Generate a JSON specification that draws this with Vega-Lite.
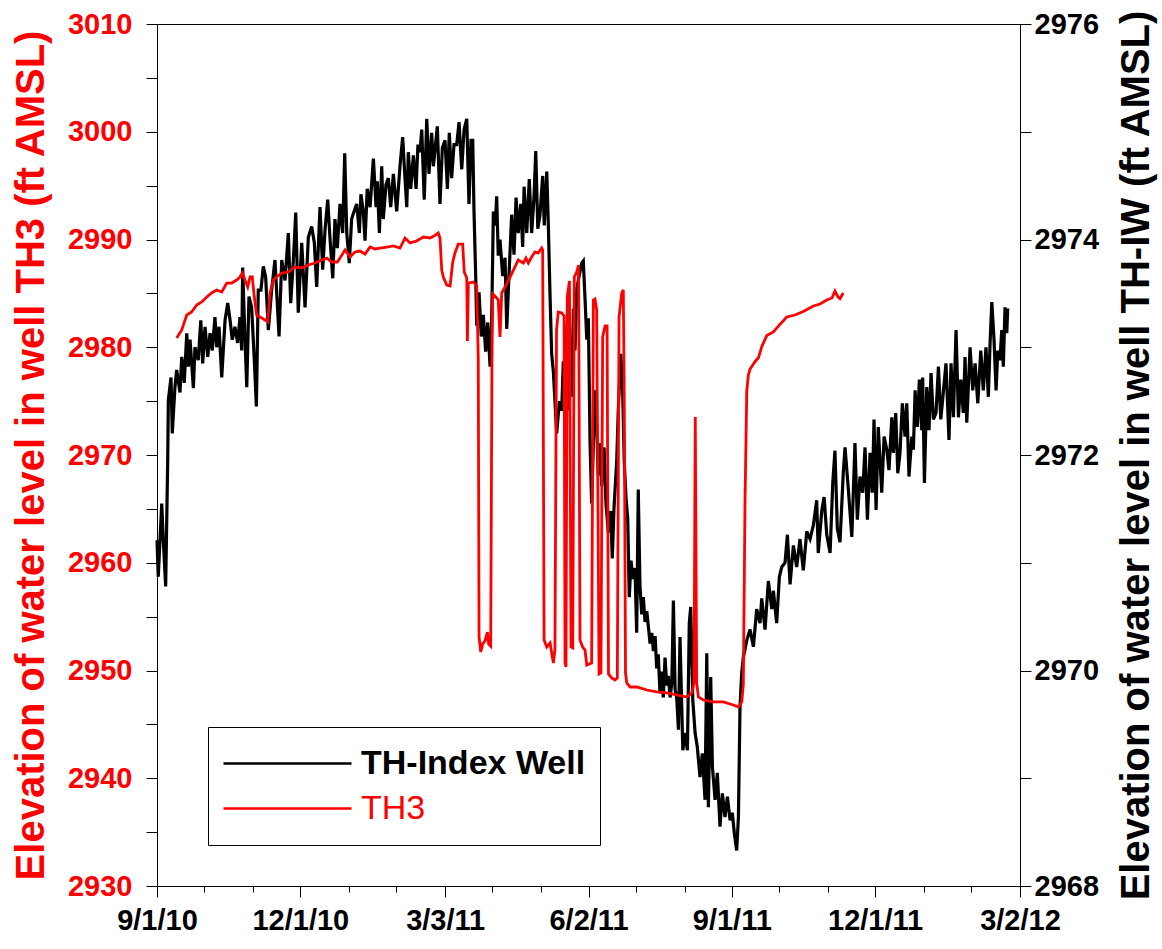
{
  "$schema": "https://vega.github.io/schema/vega-lite/v6.json",
  "width": 863,
  "height": 862,
  "autosize": {"type": "none"},
  "padding": {"left": 157, "top": 24, "right": 142, "bottom": 63},
  "background": "white",
  "config": {
    "view": {"stroke": "black", "strokeWidth": 1},
    "font": "Liberation Sans",
    "axis": {"grid": false, "domainColor": "black", "tickColor": "black", "domainWidth": 1, "tickWidth": 1, "labelFont": "Liberation Sans", "titleFont": "Liberation Sans", "labelOverlap": false, "labelBound": false, "labelFlush": false}
  },
  "datasets": {
    "th_index_well": [
      {"day":0,"elevation":2971.21},{"day":0.8,"elevation":2970.87},{"day":3.0,"elevation":2971.55},{"day":4.0,"elevation":2971.21},{"day":5.5,"elevation":2970.78},{"day":6.8,"elevation":2971.95},{"day":7.2,"elevation":2972.51},{"day":8.9,"elevation":2972.72},{"day":9.7,"elevation":2972.20},{"day":11.4,"elevation":2972.63},{"day":12.5,"elevation":2972.79},{"day":14.6,"elevation":2972.58},{"day":15.7,"elevation":2972.91},{"day":17.3,"elevation":2972.67},{"day":18.9,"elevation":2973.13},{"day":19.9,"elevation":2972.82},{"day":21.0,"elevation":2973.07},{"day":23.1,"elevation":2972.62},{"day":24.1,"elevation":2973.00},{"day":26.2,"elevation":2972.88},{"day":27.8,"elevation":2973.25},{"day":29.0,"elevation":2972.85},{"day":30.5,"elevation":2973.19},{"day":32.2,"elevation":2972.91},{"day":33.7,"elevation":2973.13},{"day":35.1,"elevation":2972.97},{"day":36.8,"elevation":2973.28},{"day":37.9,"elevation":2973.00},{"day":39.4,"elevation":2973.19},{"day":41.1,"elevation":2972.72},{"day":43.2,"elevation":2973.25},{"day":44.9,"elevation":2973.41},{"day":46.4,"elevation":2973.25},{"day":47.8,"elevation":2973.07},{"day":49.5,"elevation":2973.19},{"day":51.2,"elevation":2973.04},{"day":52.7,"elevation":2973.28},{"day":53.8,"elevation":2972.97},{"day":54.4,"elevation":2973.74},{"day":55.4,"elevation":2973.28},{"day":57.0,"elevation":2972.63},{"day":58.4,"elevation":2973.47},{"day":60.1,"elevation":2973.37},{"day":61.8,"elevation":2972.88},{"day":63.1,"elevation":2972.45},{"day":64.3,"elevation":2973.53},{"day":66.0,"elevation":2973.53},{"day":67.5,"elevation":2973.75},{"day":69.0,"elevation":2973.65},{"day":70.7,"elevation":2973.16},{"day":72.8,"elevation":2973.53},{"day":74.9,"elevation":2973.81},{"day":77.5,"elevation":2973.10},{"day":79.2,"elevation":2973.81},{"day":81.3,"elevation":2973.62},{"day":83.4,"elevation":2974.06},{"day":84.9,"elevation":2973.41},{"day":86.6,"elevation":2973.81},{"day":88.1,"elevation":2974.25},{"day":89.7,"elevation":2973.32},{"day":91.9,"elevation":2973.97},{"day":94.0,"elevation":2973.37},{"day":96.1,"elevation":2974.02},{"day":98.2,"elevation":2974.12},{"day":99.9,"elevation":2973.97},{"day":101.4,"elevation":2973.56},{"day":103.5,"elevation":2974.30},{"day":105.2,"elevation":2973.72},{"day":106.7,"elevation":2974.09},{"day":108.4,"elevation":2974.37},{"day":109.9,"elevation":2974.00},{"day":111.6,"elevation":2973.64},{"day":113.0,"elevation":2974.19},{"day":114.5,"elevation":2973.92},{"day":116.2,"elevation":2974.33},{"day":117.9,"elevation":2974.06},{"day":119.2,"elevation":2974.80},{"day":120.5,"elevation":2974.06},{"day":122.1,"elevation":2973.78},{"day":123.6,"elevation":2974.19},{"day":125.1,"elevation":2974.26},{"day":126.8,"elevation":2974.33},{"day":128.5,"elevation":2974.06},{"day":129.5,"elevation":2974.42},{"day":131.0,"elevation":2974.26},{"day":132.1,"elevation":2973.99},{"day":133.5,"elevation":2974.47},{"day":135.3,"elevation":2974.30},{"day":137.4,"elevation":2974.75},{"day":139.1,"elevation":2974.30},{"day":139.9,"elevation":2974.54},{"day":141.2,"elevation":2974.06},{"day":142.7,"elevation":2974.68},{"day":143.7,"elevation":2974.19},{"day":145.4,"elevation":2974.51},{"day":146.9,"elevation":2974.57},{"day":148.4,"elevation":2974.30},{"day":150.1,"elevation":2974.61},{"day":152.2,"elevation":2974.26},{"day":154.3,"elevation":2974.68},{"day":156.0,"elevation":2974.95},{"day":157.3,"elevation":2974.61},{"day":158.6,"elevation":2974.30},{"day":159.6,"elevation":2974.81},{"day":161.1,"elevation":2974.47},{"day":162.8,"elevation":2974.78},{"day":164.5,"elevation":2974.47},{"day":165.7,"elevation":2974.88},{"day":167.0,"elevation":2974.81},{"day":168.1,"elevation":2975.02},{"day":169.7,"elevation":2974.37},{"day":171.3,"elevation":2975.12},{"day":172.7,"elevation":2974.61},{"day":174.4,"elevation":2974.99},{"day":175.5,"elevation":2974.68},{"day":178.0,"elevation":2975.05},{"day":179.7,"elevation":2974.33},{"day":181.2,"elevation":2974.85},{"day":182.9,"elevation":2974.92},{"day":184.4,"elevation":2974.47},{"day":185.6,"elevation":2974.99},{"day":187.1,"elevation":2974.57},{"day":188.6,"elevation":2974.88},{"day":190.3,"elevation":2974.88},{"day":191.8,"elevation":2975.09},{"day":193.5,"elevation":2974.65},{"day":195.0,"elevation":2975.02},{"day":196.7,"elevation":2975.12},{"day":198.1,"elevation":2974.33},{"day":199.4,"elevation":2974.92},{"day":200.5,"elevation":2974.92},{"day":201.3,"elevation":2974.26},{"day":202.4,"elevation":2973.64},{"day":203.0,"elevation":2973.20},{"day":204.5,"elevation":2973.51},{"day":205.9,"elevation":2973.10},{"day":207.2,"elevation":2973.30},{"day":208.7,"elevation":2972.96},{"day":210.0,"elevation":2973.23},{"day":211.5,"elevation":2972.82},{"day":212.5,"elevation":2973.23},{"day":213.6,"elevation":2974.26},{"day":214.8,"elevation":2974.13},{"day":215.7,"elevation":2974.40},{"day":216.7,"elevation":2973.85},{"day":217.8,"elevation":2974.00},{"day":219.5,"elevation":2973.66},{"day":221.0,"elevation":2973.83},{"day":222.1,"elevation":2973.17},{"day":223.1,"elevation":2973.53},{"day":225.2,"elevation":2974.23},{"day":226.7,"elevation":2973.86},{"day":228.0,"elevation":2974.39},{"day":229.4,"elevation":2974.06},{"day":231.0,"elevation":2974.33},{"day":232.2,"elevation":2973.93},{"day":233.1,"elevation":2974.49},{"day":234.8,"elevation":2974.06},{"day":236.4,"elevation":2974.56},{"day":237.9,"elevation":2974.06},{"day":239.4,"elevation":2974.39},{"day":240.5,"elevation":2974.82},{"day":241.8,"elevation":2974.10},{"day":243.2,"elevation":2974.23},{"day":244.9,"elevation":2974.59},{"day":245.9,"elevation":2974.13},{"day":247.5,"elevation":2974.63},{"day":248.5,"elevation":2974.13},{"day":249.6,"elevation":2973.47},{"day":250.6,"elevation":2972.94},{"day":251.7,"elevation":2972.77},{"day":253.8,"elevation":2972.20},{"day":255.5,"elevation":2972.50},{"day":257.0,"elevation":2972.41},{"day":258.0,"elevation":2972.87},{"day":259.1,"elevation":2972.47},{"day":260.2,"elevation":2973.20},{"day":261.2,"elevation":2972.41},{"day":262.3,"elevation":2973.00},{"day":263.3,"elevation":2972.54},{"day":264.4,"elevation":2973.36},{"day":265.4,"elevation":2972.97},{"day":266.5,"elevation":2973.53},{"day":267.5,"elevation":2973.62},{"day":268.6,"elevation":2973.70},{"day":269.7,"elevation":2973.78},{"day":270.7,"elevation":2973.80},{"day":271.8,"elevation":2973.45},{"day":272.9,"elevation":2973.07},{"day":273.9,"elevation":2973.27},{"day":275.0,"elevation":2972.11},{"day":276.0,"elevation":2971.55},{"day":277.1,"elevation":2972.11},{"day":278.1,"elevation":2972.60},{"day":279.2,"elevation":2972.27},{"day":280.2,"elevation":2971.81},{"day":281.3,"elevation":2972.11},{"day":282.4,"elevation":2971.71},{"day":283.9,"elevation":2972.07},{"day":285.1,"elevation":2971.55},{"day":286.6,"elevation":2971.28},{"day":288.1,"elevation":2971.48},{"day":289.1,"elevation":2971.04},{"day":290.2,"elevation":2971.51},{"day":291.9,"elevation":2971.94},{"day":292.9,"elevation":2972.41},{"day":294.5,"elevation":2972.94},{"day":295.7,"elevation":2972.60},{"day":296.7,"elevation":2971.94},{"day":297.8,"elevation":2971.61},{"day":298.9,"elevation":2971.41},{"day":299.9,"elevation":2970.68},{"day":301.0,"elevation":2971.02},{"day":302.1,"elevation":2970.85},{"day":303.5,"elevation":2970.95},{"day":304.6,"elevation":2970.35},{"day":305.6,"elevation":2971.68},{"day":306.7,"elevation":2970.78},{"day":307.8,"elevation":2970.52},{"day":308.8,"elevation":2970.68},{"day":309.9,"elevation":2970.45},{"day":311.0,"elevation":2970.55},{"day":312.0,"elevation":2970.41},{"day":313.1,"elevation":2970.25},{"day":314.2,"elevation":2970.35},{"day":315.2,"elevation":2970.18},{"day":316.3,"elevation":2970.32},{"day":317.3,"elevation":2970.02},{"day":318.3,"elevation":2970.15},{"day":319.4,"elevation":2969.79},{"day":320.5,"elevation":2969.99},{"day":321.5,"elevation":2969.75},{"day":322.6,"elevation":2970.12},{"day":323.7,"elevation":2969.86},{"day":324.7,"elevation":2969.95},{"day":325.8,"elevation":2969.75},{"day":326.9,"elevation":2969.88},{"day":327.9,"elevation":2970.65},{"day":329.0,"elevation":2969.82},{"day":330.0,"elevation":2969.75},{"day":331.1,"elevation":2969.45},{"day":332.1,"elevation":2970.31},{"day":333.9,"elevation":2969.26},{"day":335.3,"elevation":2969.42},{"day":336.8,"elevation":2969.26},{"day":338.0,"elevation":2970.44},{"day":338.9,"elevation":2970.59},{"day":340.2,"elevation":2969.73},{"day":341.7,"elevation":2969.42},{"day":343.1,"elevation":2969.29},{"day":344.8,"elevation":2969.01},{"day":346.3,"elevation":2969.23},{"day":348.0,"elevation":2968.80},{"day":349.1,"elevation":2970.16},{"day":350.1,"elevation":2968.73},{"day":351.6,"elevation":2969.94},{"day":352.7,"elevation":2969.10},{"day":354.4,"elevation":2968.80},{"day":355.8,"elevation":2969.05},{"day":357.5,"elevation":2968.55},{"day":359.0,"elevation":2968.86},{"day":360.7,"elevation":2968.64},{"day":362.2,"elevation":2968.83},{"day":363.9,"elevation":2968.61},{"day":365.3,"elevation":2968.68},{"day":366.6,"elevation":2968.49},{"day":368.1,"elevation":2968.33},{"day":369.2,"elevation":2968.64},{"day":370.2,"elevation":2969.66},{"day":371.3,"elevation":2969.98},{"day":372.3,"elevation":2970.12},{"day":374.5,"elevation":2970.28},{"day":376.6,"elevation":2970.38},{"day":378.7,"elevation":2970.22},{"day":380.8,"elevation":2970.57},{"day":382.9,"elevation":2970.44},{"day":384.0,"elevation":2970.67},{"day":386.1,"elevation":2970.38},{"day":388.2,"elevation":2970.83},{"day":390.4,"elevation":2970.57},{"day":391.4,"elevation":2970.74},{"day":393.5,"elevation":2970.44},{"day":395.2,"elevation":2970.87},{"day":396.7,"elevation":2970.96},{"day":398.8,"elevation":2971.00},{"day":400.3,"elevation":2971.26},{"day":402.0,"elevation":2970.80},{"day":404.1,"elevation":2971.16},{"day":406.2,"elevation":2970.96},{"day":408.3,"elevation":2971.22},{"day":410.4,"elevation":2970.93},{"day":412.6,"elevation":2971.29},{"day":414.7,"elevation":2971.22},{"day":416.8,"elevation":2971.35},{"day":418.9,"elevation":2971.58},{"day":419.9,"elevation":2971.09},{"day":422.1,"elevation":2971.48},{"day":423.6,"elevation":2971.61},{"day":425.3,"elevation":2971.26},{"day":427.4,"elevation":2971.09},{"day":429.1,"elevation":2971.74},{"day":430.5,"elevation":2972.04},{"day":432.0,"elevation":2971.32},{"day":433.7,"elevation":2971.19},{"day":435.8,"elevation":2971.84},{"day":436.9,"elevation":2972.07},{"day":439.0,"elevation":2971.68},{"day":441.2,"elevation":2971.24},{"day":443.2,"elevation":2972.11},{"day":444.7,"elevation":2971.40},{"day":446.4,"elevation":2971.80},{"day":448.1,"elevation":2971.65},{"day":449.6,"elevation":2972.07},{"day":451.1,"elevation":2971.40},{"day":452.8,"elevation":2972.02},{"day":454.2,"elevation":2971.65},{"day":455.3,"elevation":2972.33},{"day":456.6,"elevation":2971.49},{"day":458.0,"elevation":2972.26},{"day":460.2,"elevation":2971.65},{"day":461.7,"elevation":2972.17},{"day":463.4,"elevation":2972.05},{"day":464.8,"elevation":2971.86},{"day":466.6,"elevation":2972.35},{"day":467.6,"elevation":2972.02},{"day":469.1,"elevation":2972.39},{"day":470.4,"elevation":2971.83},{"day":471.8,"elevation":2972.02},{"day":473.3,"elevation":2972.48},{"day":475.0,"elevation":2972.17},{"day":476.1,"elevation":2972.48},{"day":477.5,"elevation":2971.80},{"day":479.3,"elevation":2972.17},{"day":480.3,"elevation":2972.05},{"day":481.4,"elevation":2972.60},{"day":482.8,"elevation":2972.26},{"day":484.1,"elevation":2972.70},{"day":485.6,"elevation":2972.23},{"day":486.2,"elevation":2972.72},{"day":487.3,"elevation":2971.74},{"day":488.8,"elevation":2972.63},{"day":490.2,"elevation":2972.23},{"day":491.5,"elevation":2972.76},{"day":493.0,"elevation":2972.33},{"day":494.7,"elevation":2972.39},{"day":496.2,"elevation":2972.82},{"day":497.7,"elevation":2972.33},{"day":499.3,"elevation":2972.58},{"day":501.0,"elevation":2972.85},{"day":502.9,"elevation":2972.14},{"day":504.2,"elevation":2972.85},{"day":505.7,"elevation":2972.35},{"day":507.4,"elevation":2973.16},{"day":508.9,"elevation":2972.35},{"day":510.4,"elevation":2972.70},{"day":512.0,"elevation":2972.39},{"day":513.1,"elevation":2972.91},{"day":514.2,"elevation":2972.30},{"day":516.3,"elevation":2973.00},{"day":518.0,"elevation":2972.60},{"day":519.5,"elevation":2972.85},{"day":521.2,"elevation":2972.48},{"day":523.1,"elevation":2972.97},{"day":524.7,"elevation":2972.60},{"day":526.4,"elevation":2973.00},{"day":527.9,"elevation":2972.54},{"day":529.0,"elevation":2973.04},{"day":530.1,"elevation":2973.42},{"day":531.5,"elevation":2973.07},{"day":532.8,"elevation":2972.60},{"day":533.9,"elevation":2972.97},{"day":535.3,"elevation":2972.88},{"day":536.4,"elevation":2973.16},{"day":537.4,"elevation":2972.82},{"day":538.5,"elevation":2973.37},{"day":539.6,"elevation":2973.13},{"day":540.2,"elevation":2973.36}
    ],
    "th3": [
      {"day":12.5,"elevation":2980.86},{"day":15.7,"elevation":2981.60},{"day":18.9,"elevation":2982.99},{"day":22.0,"elevation":2983.27},{"day":25.2,"elevation":2983.92},{"day":28.4,"elevation":2984.20},{"day":31.6,"elevation":2984.66},{"day":34.7,"elevation":2985.04},{"day":37.9,"elevation":2985.31},{"day":41.1,"elevation":2985.13},{"day":44.3,"elevation":2985.96},{"day":47.4,"elevation":2985.96},{"day":50.6,"elevation":2986.24},{"day":52.7,"elevation":2986.52},{"day":54.2,"elevation":2986.89},{"day":55.9,"elevation":2986.24},{"day":57.6,"elevation":2985.59},{"day":59.1,"elevation":2986.52},{"day":60.5,"elevation":2986.52},{"day":61.8,"elevation":2984.66},{"day":63.3,"elevation":2982.99},{"day":65.4,"elevation":2982.81},{"day":68.6,"elevation":2982.53},{"day":70.3,"elevation":2982.34},{"day":71.8,"elevation":2985.04},{"day":73.9,"elevation":2986.24},{"day":76.0,"elevation":2986.52},{"day":79.2,"elevation":2986.89},{"day":83.4,"elevation":2986.98},{"day":87.6,"elevation":2987.45},{"day":91.9,"elevation":2987.36},{"day":96.1,"elevation":2987.63},{"day":100.3,"elevation":2987.82},{"day":104.6,"elevation":2988.10},{"day":107.8,"elevation":2988.28},{"day":110.9,"elevation":2987.91},{"day":114.5,"elevation":2987.91},{"day":116.2,"elevation":2988.28},{"day":119.4,"elevation":2989.03},{"day":122.6,"elevation":2988.38},{"day":125.7,"elevation":2988.84},{"day":128.9,"elevation":2988.93},{"day":132.1,"elevation":2988.65},{"day":135.3,"elevation":2989.30},{"day":138.4,"elevation":2989.12},{"day":141.6,"elevation":2989.21},{"day":145.9,"elevation":2989.30},{"day":150.1,"elevation":2989.40},{"day":154.3,"elevation":2989.21},{"day":157.5,"elevation":2990.14},{"day":160.7,"elevation":2989.68},{"day":164.9,"elevation":2989.86},{"day":169.1,"elevation":2990.23},{"day":173.4,"elevation":2990.14},{"day":175.9,"elevation":2990.33},{"day":178.6,"elevation":2990.60},{"day":179.7,"elevation":2990.14},{"day":180.8,"elevation":2987.17},{"day":181.8,"elevation":2986.52},{"day":184.0,"elevation":2985.78},{"day":186.1,"elevation":2985.69},{"day":187.8,"elevation":2987.91},{"day":189.2,"elevation":2988.75},{"day":191.3,"elevation":2989.58},{"day":194.1,"elevation":2989.58},{"day":195.1,"elevation":2986.98},{"day":196.7,"elevation":2986.43},{"day":197.1,"elevation":2980.58},{"day":197.7,"elevation":2985.96},{"day":200.9,"elevation":2986.06},{"day":203.0,"elevation":2985.69},{"day":204.0,"elevation":2978.91},{"day":204.5,"elevation":2953.11},{"day":205.6,"elevation":2951.72},{"day":206.8,"elevation":2952.46},{"day":208.3,"elevation":2952.74},{"day":209.8,"elevation":2953.57},{"day":210.6,"elevation":2952.46},{"day":211.9,"elevation":2952.27},{"day":212.7,"elevation":2978.91},{"day":213.2,"elevation":2984.94},{"day":214.6,"elevation":2984.76},{"day":216.7,"elevation":2984.39},{"day":217.8,"elevation":2980.95},{"day":218.9,"elevation":2985.04},{"day":221.0,"elevation":2985.59},{"day":224.2,"elevation":2986.52},{"day":227.3,"elevation":2987.45},{"day":229.4,"elevation":2988.10},{"day":232.6,"elevation":2987.82},{"day":234.3,"elevation":2988.28},{"day":235.8,"elevation":2987.82},{"day":237.9,"elevation":2988.38},{"day":240.0,"elevation":2988.84},{"day":242.1,"elevation":2988.75},{"day":244.3,"elevation":2989.21},{"day":244.9,"elevation":2989.03},{"day":245.8,"elevation":2952.83},{"day":247.5,"elevation":2952.18},{"day":249.6,"elevation":2952.55},{"day":251.7,"elevation":2950.70},{"day":252.7,"elevation":2951.90},{"day":253.7,"elevation":2981.60},{"day":254.8,"elevation":2983.27},{"day":257.0,"elevation":2983.18},{"day":258.5,"elevation":2982.90},{"day":259.1,"elevation":2950.70},{"day":259.7,"elevation":2950.33},{"day":260.5,"elevation":2984.66},{"day":261.9,"elevation":2986.15},{"day":262.9,"elevation":2952.18},{"day":264.0,"elevation":2952.09},{"day":265.0,"elevation":2986.52},{"day":266.5,"elevation":2986.98},{"day":267.7,"elevation":2987.63},{"day":268.6,"elevation":2952.83},{"day":270.3,"elevation":2952.18},{"day":271.8,"elevation":2951.90},{"day":272.9,"elevation":2950.51},{"day":276.0,"elevation":2950.70},{"day":277.1,"elevation":2984.39},{"day":278.1,"elevation":2984.48},{"day":279.2,"elevation":2983.46},{"day":280.7,"elevation":2949.68},{"day":281.9,"elevation":2949.77},{"day":283.0,"elevation":2980.95},{"day":284.5,"elevation":2981.97},{"day":285.8,"elevation":2981.97},{"day":286.7,"elevation":2949.68},{"day":288.7,"elevation":2949.31},{"day":290.8,"elevation":2949.12},{"day":292.3,"elevation":2949.31},{"day":293.4,"elevation":2982.81},{"day":295.1,"elevation":2985.04},{"day":296.1,"elevation":2985.31},{"day":296.7,"elevation":2975.38},{"day":297.5,"elevation":2949.77},{"day":298.3,"elevation":2948.84},{"day":300.4,"elevation":2948.47},{"day":304.6,"elevation":2948.47},{"day":306.7,"elevation":2948.38},{"day":311.0,"elevation":2948.19},{"day":317.3,"elevation":2948.01},{"day":323.7,"elevation":2947.92},{"day":330.0,"elevation":2947.73},{"day":336.4,"elevation":2947.54},{"day":339.6,"elevation":2947.92},{"day":341.0,"elevation":2948.84},{"day":341.8,"elevation":2973.53},{"day":342.7,"elevation":2948.84},{"day":343.8,"elevation":2947.54},{"day":346.9,"elevation":2947.26},{"day":353.3,"elevation":2947.08},{"day":359.6,"elevation":2947.08},{"day":366.0,"elevation":2946.80},{"day":369.2,"elevation":2946.61},{"day":371.3,"elevation":2947.08},{"day":372.3,"elevation":2948.65},{"day":373.4,"elevation":2965.83},{"day":374.5,"elevation":2975.94},{"day":375.5,"elevation":2977.43},{"day":376.6,"elevation":2977.98},{"day":379.8,"elevation":2978.68},{"day":381.9,"elevation":2979.02},{"day":384.0,"elevation":2980.05},{"day":387.2,"elevation":2981.08},{"day":391.4,"elevation":2981.42},{"day":395.6,"elevation":2982.12},{"day":399.9,"elevation":2982.81},{"day":405.1,"elevation":2982.99},{"day":410.4,"elevation":2983.32},{"day":416.8,"elevation":2983.83},{"day":421.0,"elevation":2984.01},{"day":425.3,"elevation":2984.39},{"day":428.6,"elevation":2984.57},{"day":430.5,"elevation":2985.22},{"day":432.5,"elevation":2984.66},{"day":433.7,"elevation":2984.52},{"day":435.8,"elevation":2985.04}
    ]
  },
  "layer": [
    {
      "data": {"name": "th_index_well"},
      "mark": {"type": "line", "strokeWidth": 3.2, "interpolate": "linear"},
      "encoding": {
        "x": {
          "field": "day", "type": "quantitative",
          "scale": {"domain": [0, 548], "nice": false, "zero": false},
          "axis": {
            "orient": "bottom", "title": null,
            "values": [0, 91, 183, 274, 365, 456, 548],
            "labelExpr": "datum.value == 0 ? '9/1/10' : datum.value == 91 ? '12/1/10' : datum.value == 183 ? '3/3/11' : datum.value == 274 ? '6/2/11' : datum.value == 365 ? '9/1/11' : datum.value == 456 ? '12/1/11' : '3/2/12'",
            "tickSize": 11, "labelFontSize": 29, "labelFontWeight": "bold", "labelColor": "black", "labelPadding": 9, "labelFlush": false
          }
        },
        "y": {
          "field": "elevation", "type": "quantitative",
          "scale": {"domain": [2968, 2976], "nice": false, "zero": false},
          "axis": {
            "orient": "right",
            "values": [2968, 2969, 2970, 2971, 2972, 2973, 2974, 2975, 2976],
            "format": "d",
            "labelExpr": "datum.value % 2 == 0 ? datum.label : ''",
            "tickSize": 11, "labelFontSize": 29, "labelFontWeight": "bold", "labelColor": "black", "labelPadding": 3,
            "title": "Elevation of water level in well TH-IW (ft AMSL)",
            "titleFontSize": 40, "titleFontWeight": "bold", "titleColor": "black",
            "titleAngle": 270, "titleBaseline": "top", "titlePadding": 18
          }
        },
        "color": {
          "datum": "TH-Index Well", "type": "nominal",
          "scale": {"domain": ["TH-Index Well", "TH3"], "range": ["#000000", "#ff0000"]},
          "legend": {
            "orient": "none", "legendX": 51, "legendY": 703,
            "title": null, "direction": "vertical",
            "symbolType": "stroke", "symbolSize": 16384, "symbolStrokeWidth": 2.5,
            "clipHeight": 45, "rowPadding": 0,
            "labelFontSize": 34, "labelOffset": 8, "labelLimit": 0,
            "strokeColor": "black", "fillColor": "white", "padding": 14,
            "encode": {
              "labels": {
                "update": {
                  "fill": {"signal": "datum.value === 'TH3' ? '#ff0000' : '#000000'"},
                  "fontWeight": {"signal": "datum.value === 'TH3' ? 'normal' : 'bold'"}
                }
              }
            }
          }
        }
      }
    },
    {
      "data": {"name": "th3"},
      "mark": {"type": "line", "strokeWidth": 2.8, "interpolate": "linear"},
      "encoding": {
        "x": {
          "field": "day", "type": "quantitative",
          "axis": {
            "orient": "bottom", "title": null, "labels": false, "domain": true,
            "values": [30, 61, 122, 152, 213, 244, 304, 335, 395, 426, 487, 517],
            "tickSize": 6
          }
        },
        "y": {
          "field": "elevation", "type": "quantitative",
          "scale": {"domain": [2930, 3010], "nice": false, "zero": false},
          "axis": {
            "orient": "left",
            "values": [2930, 2935, 2940, 2945, 2950, 2955, 2960, 2965, 2970, 2975, 2980, 2985, 2990, 2995, 3000, 3005, 3010],
            "format": "d",
            "labelExpr": "datum.value % 10 == 0 ? datum.label : ''",
            "tickSize": 11, "labelFontSize": 29, "labelFontWeight": "bold", "labelColor": "#ff0000", "labelPadding": 14,
            "title": "Elevation of water level in well TH3 (ft AMSL)",
            "titleFontSize": 40, "titleFontWeight": "bold", "titleColor": "#ff0000",
            "titlePadding": 16
          }
        },
        "color": {"datum": "TH3", "type": "nominal"}
      }
    }
  ],
  "resolve": {"scale": {"y": "independent"}, "axis": {"x": "independent"}}
}
